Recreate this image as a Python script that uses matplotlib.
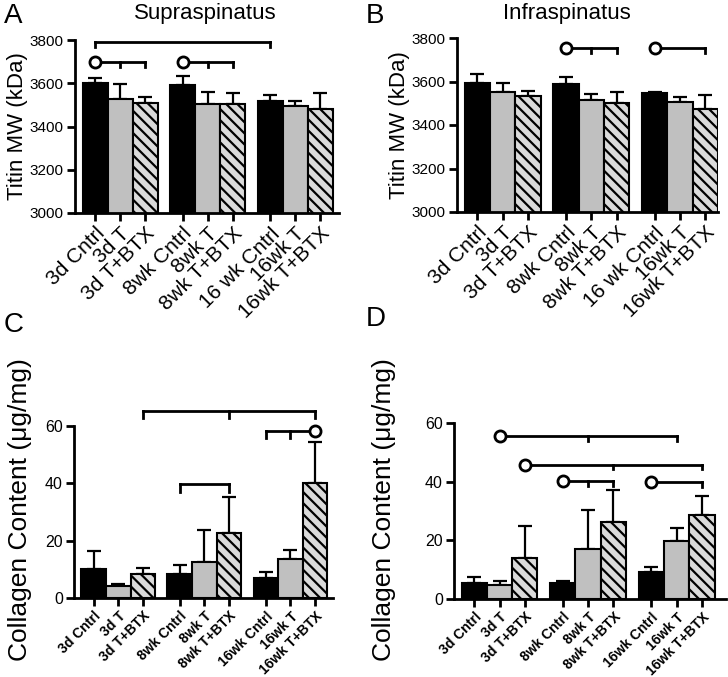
import matplotlib
matplotlib.use('Agg')
import matplotlib.pyplot as plt

plt.rcParams['font.family'] = ['Liberation Sans', 'DejaVu Sans']
plt.rcParams['hatch.linewidth'] = 1.6

# Rótulos dos grupos
labels_titin = ['3d Cntrl', '3d T', '3d T+BTX', '8wk Cntrl', '8wk T', '8wk T+BTX',
                '16 wk Cntrl', '16wk T', '16wk T+BTX']
labels_coll = ['3d Cntrl', '3d T', '3d T+BTX', '8wk Cntrl', '8wk T', '8wk T+BTX',
               '16wk Cntrl', '16wk T', '16wk T+BTX']
positions = [0, 1, 2, 3.5, 4.5, 5.5, 7, 8, 9]

# Valores (média e erro superior)
supra_titin = [3600, 3525, 3510, 3590, 3505, 3505, 3520, 3495, 3480]
supra_titin_err = [25, 70, 25, 45, 55, 50, 25, 22, 75]
infra_titin = [3595, 3550, 3535, 3590, 3515, 3500, 3545, 3508, 3475]
infra_titin_err = [38, 42, 20, 32, 27, 52, 5, 20, 65]
supra_coll = [10.1, 4.1, 8.5, 8.2, 12.6, 22.8, 7.1, 13.5, 40.0]
supra_coll_err = [6.2, 0.9, 1.8, 3.2, 11.1, 12.5, 2.0, 3.4, 14.5]
infra_coll = [5.45, 4.9, 14.0, 5.45, 17.2, 26.1, 9.2, 19.7, 28.75]
infra_coll_err = [2.05, 1.1, 10.8, 0.65, 13.0, 10.9, 1.6, 4.5, 6.25]

# Marcas de significância: (início, fim, altura, ticks, círculo)
sig_a = [(0, 6, 3792, [0, 6], None), (0, 2, 3700, [1, 2], 0), (3, 5, 3700, [4, 5], 3)]
sig_b = [(3, 5, 3753, [4, 5], 3), (6, 8, 3753, [8], 6)]
sig_c = [(2, 8, 65.3, [2, 5, 8], None), (6, 8, 58.4, [6, 7], 8), (3, 5, 39.7, [3, 5], None)]
sig_d = [(1, 7, 55.5, [4, 7], 1), (2, 8, 45.8, [5, 8], 2),
         (3, 5, 40.1, [4, 5], 3), (6, 8, 39.8, [8], 6)]

colors = ['black', '#c0c0c0', '#dadada'] * 3
hatches = ['', '', '\\\\\\'] * 3

W, H = 728, 677
fig = plt.figure(figsize=(W / 100, H / 100), dpi=100)


def px_axes(x0, y0, x1, y1):
    return fig.add_axes([x0 / W, 1 - y1 / H, (x1 - x0) / W, (y1 - y0) / H])


def painel(ax, vals, errs, labels, ylim, yticks, sigs, drop, xright, small):
    bars = ax.bar(positions, vals, width=1.0, color=colors, edgecolor='black',
                  linewidth=1.5, zorder=2)
    for b, h in zip(bars, hatches):
        b.set_hatch(h)
    ax.errorbar(positions, vals, yerr=[[0] * len(errs), errs], fmt='none',
                ecolor='black', elinewidth=1.6, capsize=5, capthick=1.6, zorder=1)
    ax.set_xlim(-0.8, xright)
    ax.set_ylim(*ylim)
    ax.set_yticks(yticks)
    ax.set_xticks(positions)
    if small:
        ax.set_xticklabels(labels, rotation=45, ha='right', rotation_mode='anchor',
                           fontsize=10, fontweight='bold')
        ax.tick_params(axis='y', labelsize=11.5)
    else:
        ax.set_xticklabels(labels, rotation=45, ha='right', rotation_mode='anchor',
                           fontsize=15)
        ax.tick_params(axis='y', labelsize=11)
    ax.tick_params(direction='out', length=6, width=2, pad=2)
    for s in ['top', 'right']:
        ax.spines[s].set_visible(False)
    for s in ['left', 'bottom']:
        ax.spines[s].set_linewidth(2)
    for i0, i1, y, ticks, circ in sigs:
        ax.plot([positions[i0], positions[i1]], [y, y], color='black', lw=2,
                clip_on=False, solid_capstyle='projecting')
        for t in ticks:
            ax.plot([positions[t], positions[t]], [y, y - drop], color='black',
                    lw=2, clip_on=False)
        if circ is not None:
            ax.plot(positions[circ], y, 'o', mfc='white', mec='black', ms=8,
                    mew=2, clip_on=False, zorder=5)


ax_a = px_axes(75, 40, 339, 213)
painel(ax_a, supra_titin, supra_titin_err, labels_titin, (3000, 3800),
       range(3000, 3801, 200), sig_a, 25, 9.76, False)
ax_b = px_axes(457, 38, 718, 212)
painel(ax_b, infra_titin, infra_titin_err, labels_titin, (3000, 3800),
       range(3000, 3801, 200), sig_b, 20, 9.5, False)
ax_c = px_axes(74, 426, 333, 598)
painel(ax_c, supra_coll, supra_coll_err, labels_coll, (0, 60),
       [0, 20, 40, 60], sig_c, 2.6, 9.73, True)
ax_d = px_axes(454, 423, 726, 599)
painel(ax_d, infra_coll, infra_coll_err, labels_coll, (0, 60),
       [0, 20, 40, 60], sig_d, 1.6, 9.95, True)


def ftext(x, y, s, **kw):
    fig.text(x / W, 1 - y / H, s, **kw)


ftext(205, 14, 'Supraspinatus', fontsize=16, ha='center', va='center')
ftext(567, 14, 'Infraspinatus', fontsize=16, ha='center', va='center')
ftext(18, 126, 'Titin MW (kDa)', fontsize=16, rotation=90, ha='center', va='center')
ftext(399, 125, 'Titin MW (kDa)', fontsize=16, rotation=90, ha='center', va='center')
ftext(20, 510, 'Collagen Content (\u03bcg/mg)', fontsize=19, rotation=90,
      ha='center', va='center')
ftext(384, 510, 'Collagen Content (\u03bcg/mg)', fontsize=19, rotation=90,
      ha='center', va='center')
for letra, x, y in [('A', 4, 16), ('B', 366, 16), ('C', 4, 325), ('D', 366, 319)]:
    ftext(x, y, letra, fontsize=20, ha='left', va='center')

fig.savefig('out.png', dpi=100)
